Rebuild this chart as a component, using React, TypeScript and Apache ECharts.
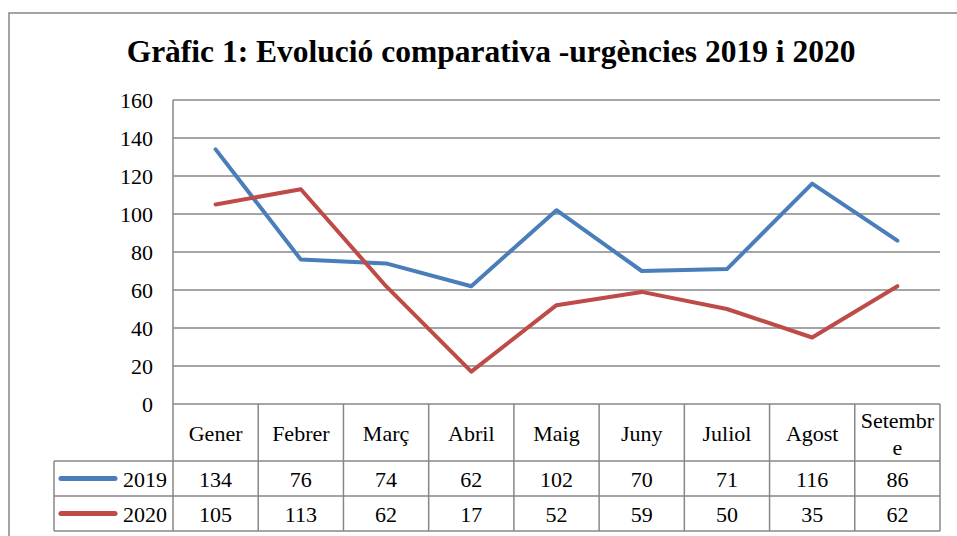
import React, { useEffect, useRef } from "react";
import * as echarts from "echarts";

const TITLE = "Gràfic 1: Evolució comparativa -urgències 2019 i 2020";
const MONTHS = ["Gener", "Febrer", "Març", "Abril", "Maig", "Juny", "Juliol", "Agost", "Setembre"];
const SERIES_NAMES = ["2019", "2020"];
const VALUES_2019 = [134, 76, 74, 62, 102, 70, 71, 116, 86];
const VALUES_2020 = [105, 113, 62, 17, 52, 59, 50, 35, 62];
const Y_TICKS = { min: 0, max: 160, interval: 20 };

const COLORS = ["#4A7EBB", "#BE4B48"];
const GRID_COLOR = "#878787";
const FONT = "'Liberation Serif', 'DejaVu Serif', serif";
const FS = 22;

const W = 957;
const H = 536;
const PLOT_LEFT = 173;
const PLOT_RIGHT = 940;
const PLOT_TOP = 100;
const PLOT_BOTTOM = 404;
const HEADER_BOTTOM = 461;
const ROW_H = 35;
const TABLE_LEFT = 54;

export default function App() {
  const ref = useRef<HTMLDivElement>(null);

  useEffect(() => {
    if (!ref.current) return;
    const chart = echarts.init(ref.current, null, { renderer: "svg" });
    const seriesValues = [VALUES_2019, VALUES_2020];

    chart.setOption({
      animation: false,
      backgroundColor: "#ffffff",
      title: {
        text: TITLE,
        left: 486,
        textAlign: "center",
        top: 30,
        textStyle: { fontFamily: FONT, fontWeight: "bold", fontSize: 31.5, color: "#000" },
      },
      grid: {
        left: PLOT_LEFT,
        right: W - PLOT_RIGHT,
        top: PLOT_TOP,
        bottom: H - PLOT_BOTTOM,
        containLabel: false,
      },
      xAxis: {
        type: "category",
        data: MONTHS,
        boundaryGap: true,
        axisLine: { show: false },
        axisTick: { show: false },
        axisLabel: {
          interval: 0,
          margin: (HEADER_BOTTOM - PLOT_BOTTOM) / 2 + 1,
          fontFamily: FONT,
          fontSize: FS,
          color: "#000",
          width: 76,
          overflow: "breakAll",
          lineHeight: 27,
          verticalAlign: "middle",
          hideOverlap: false,
        },
      },
      yAxis: {
        type: "value",
        min: Y_TICKS.min,
        max: Y_TICKS.max,
        interval: Y_TICKS.interval,
        axisLine: { show: false },
        axisTick: { show: false },
        splitLine: { show: true, lineStyle: { color: GRID_COLOR, width: 1.5 } },
        axisLabel: { margin: 20, fontFamily: FONT, fontSize: FS, color: "#000" },
      },
      series: SERIES_NAMES.map((name, i) => ({
        name,
        type: "line",
        data: seriesValues[i],
        showSymbol: false,
        symbol: "none",
        lineStyle: { color: COLORS[i], width: 4, cap: "round", join: "round" },
        itemStyle: { color: COLORS[i] },
      })),
    });

    // Build the data table from library-computed column positions
    const centers = MONTHS.map((_, i) => chart.convertToPixel({ xAxisIndex: 0 }, i) as number);
    const colW = centers.length > 1 ? centers[1] - centers[0] : 85;
    const bounds = [PLOT_LEFT, ...centers.map((c) => c + colW / 2)];
    const lineStyle = { stroke: GRID_COLOR, lineWidth: 1.5 };
    const els: any[] = [];

    // outer frame
    els.push({
      type: "rect",
      shape: { x: 9, y: 13, width: W + 20, height: H + 20 },
      style: { fill: "none", stroke: GRID_COLOR, lineWidth: 1.5 },
      silent: true,
    });
    // y axis line across plot
    els.push({ type: "line", shape: { x1: PLOT_LEFT, y1: PLOT_TOP, x2: PLOT_LEFT, y2: PLOT_BOTTOM }, style: lineStyle });
    const tableBottom = HEADER_BOTTOM + ROW_H * SERIES_NAMES.length;
    // vertical lines of table
    bounds.forEach((x) => {
      els.push({ type: "line", shape: { x1: x, y1: PLOT_BOTTOM, x2: x, y2: tableBottom }, style: lineStyle });
    });
    els.push({ type: "line", shape: { x1: TABLE_LEFT, y1: HEADER_BOTTOM, x2: TABLE_LEFT, y2: tableBottom }, style: lineStyle });
    // horizontal lines
    for (let r = 0; r <= SERIES_NAMES.length; r++) {
      const y = HEADER_BOTTOM + r * ROW_H;
      els.push({ type: "line", shape: { x1: TABLE_LEFT, y1: y, x2: PLOT_RIGHT, y2: y }, style: lineStyle });
    }
    // rows
    SERIES_NAMES.forEach((name, r) => {
      const cy = HEADER_BOTTOM + r * ROW_H + ROW_H / 2;
      els.push({
        type: "line",
        shape: { x1: 61, y1: cy, x2: 115, y2: cy },
        style: { stroke: COLORS[r], lineWidth: 5, lineCap: "round" },
      });
      els.push({
        type: "text",
        x: 167,
        y: cy + 1,
        style: { text: name, fontFamily: FONT, fontSize: FS, fill: "#000", align: "right", verticalAlign: "middle" },
      });
      seriesValues[r].forEach((v, i) => {
        els.push({
          type: "text",
          x: centers[i],
          y: cy + 1,
          style: { text: String(v), fontFamily: FONT, fontSize: FS, fill: "#000", align: "center", verticalAlign: "middle" },
        });
      });
    });

    chart.setOption({ graphic: { elements: els } });

    return () => chart.dispose();
  }, []);

  return (
    <div
      ref={ref}
      style={{ position: "absolute", left: 0, top: 0, width: W, height: H }}
    />
  );
}
